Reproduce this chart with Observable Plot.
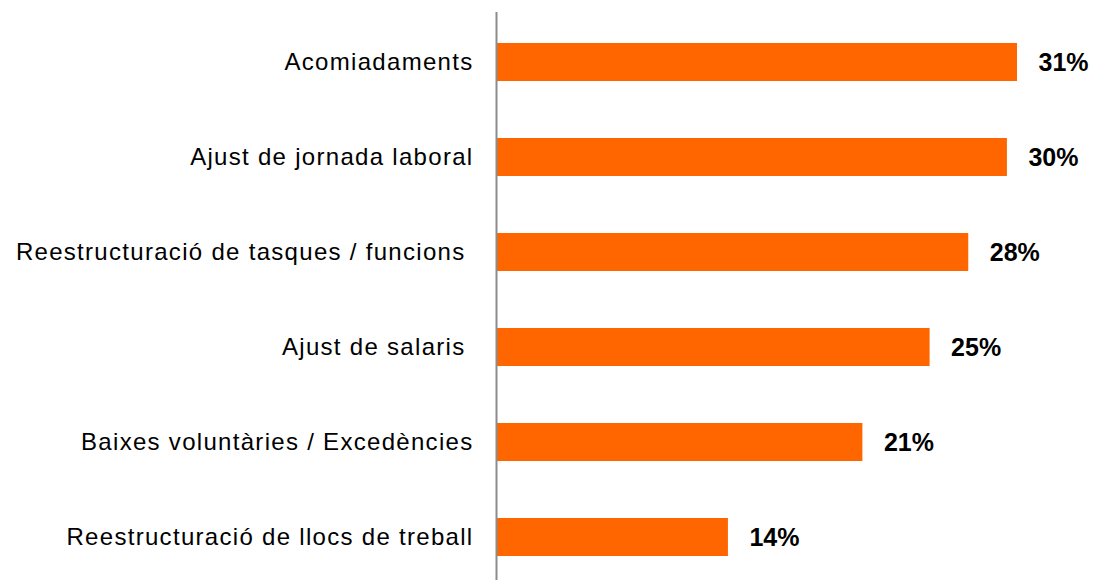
<!DOCTYPE html>
<html>
<head>
<meta charset="utf-8">
<script src="https://cdn.jsdelivr.net/npm/d3@7"></script>
<script src="https://cdn.jsdelivr.net/npm/@observablehq/plot@0.6"></script>
<style>
  html, body { margin: 0; padding: 0; background: #fff; }
  #chart svg { font-family: "Liberation Sans", Arial, sans-serif; color: #000; background: #fff; }
  #chart g[aria-label="y-axis tick label"] text { letter-spacing: 1.3px; }
</style>
</head>
<body>
<div id="chart"></div>
<script>
const categories = [
  "Acomiadaments",
  "Ajust de jornada laboral",
  "Reestructuració de tasques / funcions\u00a0",
  "Ajust de salaris\u00a0",
  "Baixes voluntàries / Excedències",
  "Reestructuració de llocs de treball"
];
const values = [31.0, 30.4, 28.1, 25.8, 21.8, 13.8];
const labels = ["31%", "30%", "28%", "25%", "21%", "14%"];

const data = categories.map((c, i) => ({category: c, value: values[i], label: labels[i]}));

const chart = Plot.plot({
  width: 1096,
  height: 580,
  marginLeft: 496,
  marginRight: 79,
  marginTop: 12,
  marginBottom: 0,
  style: {fontFamily: '"Liberation Sans", Arial, sans-serif', color: "#000", background: "#fff"},
  x: {domain: [0, 31], axis: null},
  y: {domain: categories, paddingInner: 0.6, paddingOuter: 0.283, align: 0.555, label: null},
  marks: [
    Plot.barX(data, {x: "value", y: "category", fill: "#ff6600"}),
    Plot.ruleX([0], {stroke: "#8c8c8c", strokeWidth: 2}),
    Plot.axisY({tickSize: 0, tickPadding: 23, fontSize: 24, label: null, fill: "#000"}),
    Plot.text(data, {x: "value", y: "category", text: "label", dx: 21, textAnchor: "start", fontSize: 25, fontWeight: "bold", fill: "#000"})
  ]
});
document.getElementById("chart").appendChild(chart);
</script>
</body>
</html>
